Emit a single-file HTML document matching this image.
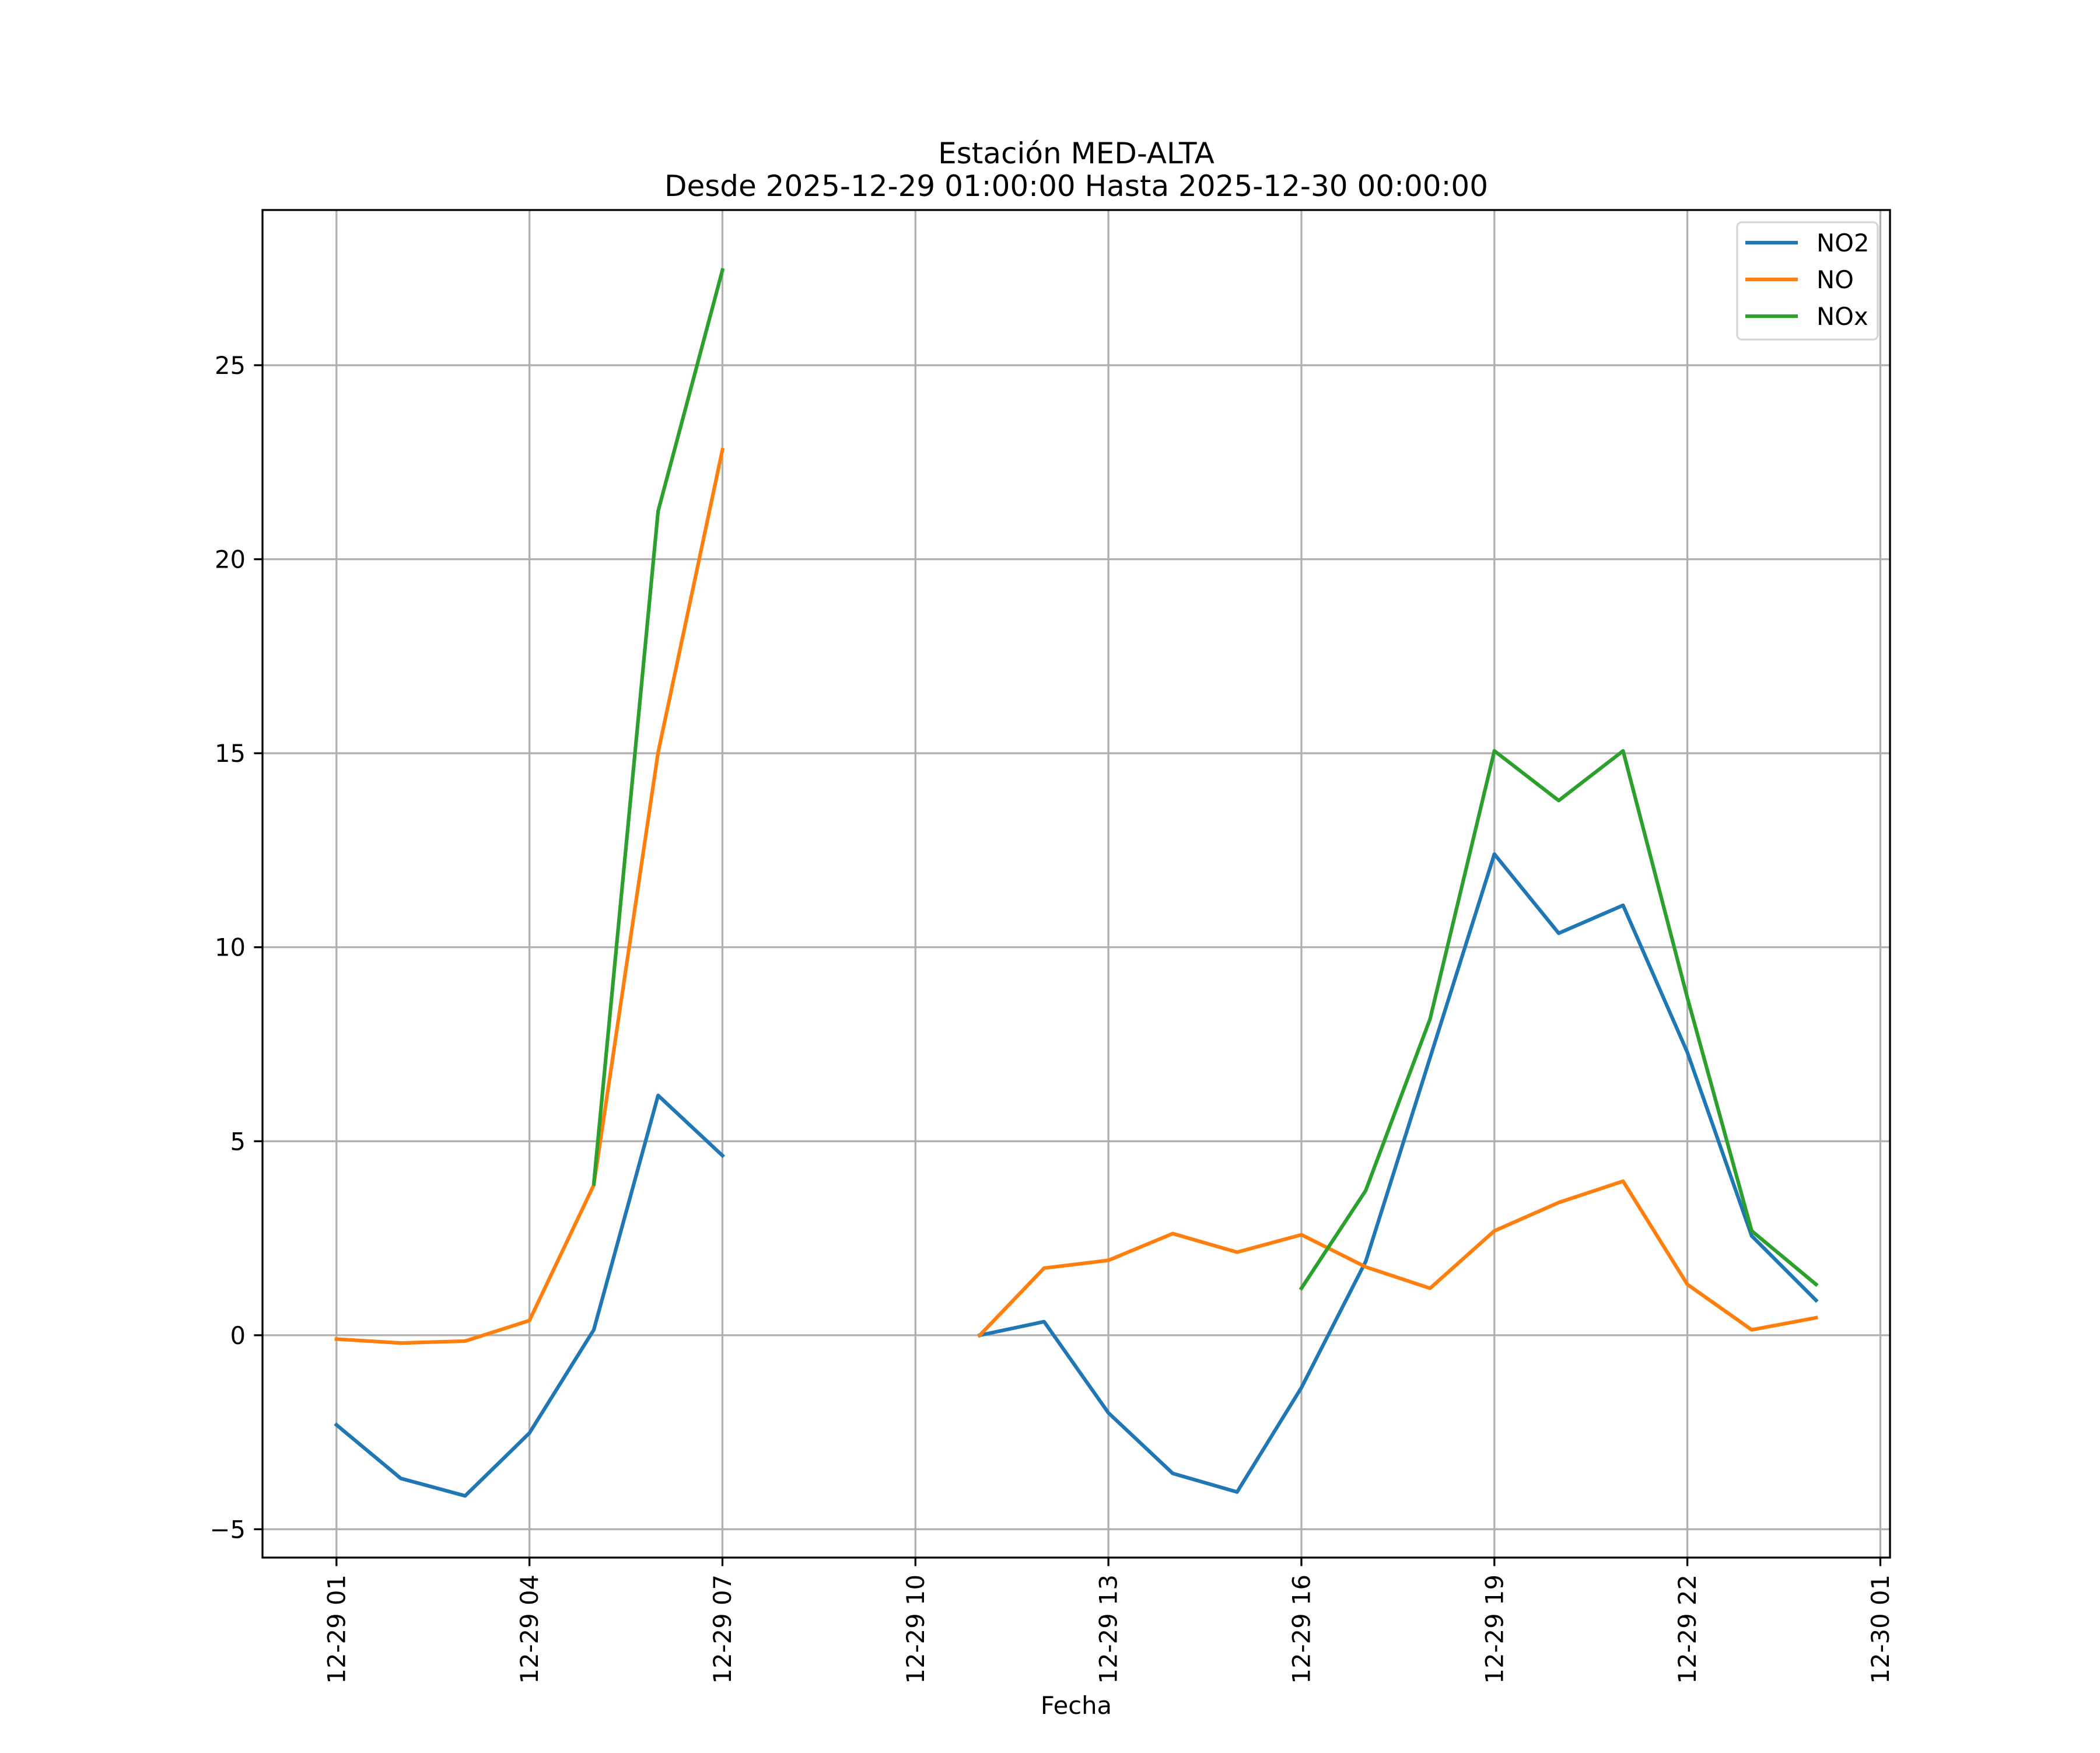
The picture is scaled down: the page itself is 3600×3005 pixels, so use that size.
<!DOCTYPE html>
<html><head><meta charset="utf-8"><style>
html,body{margin:0;padding:0;background:#fff;}
svg text{font-family:"DejaVu Sans","Liberation Sans",sans-serif;fill:#000;}
</style></head><body>
<svg id="chart" width="3600" height="3000" viewBox="0 0 3600 3000" xmlns="http://www.w3.org/2000/svg">
<rect width="3600" height="3000" fill="#fff"/>
<text x="1845" y="280" font-size="50" text-anchor="middle">Estación MED-ALTA</text>
<text x="1845" y="336" font-size="50" text-anchor="middle">Desde 2025-12-29 01:00:00 Hasta 2025-12-30 00:00:00</text>
<g id="grid"></g>
<g id="series"></g>
<rect x="450" y="360" width="2790" height="2310" fill="none" stroke="#000" stroke-width="3.3"/>
<g id="ticks"></g>
<text x="1845" y="2938" font-size="41.7" text-anchor="middle">Fecha</text>
<g>
<rect x="2978" y="381" width="241" height="201" rx="8" fill="#fff" fill-opacity="0.8" stroke="#d6d6d6" stroke-width="3.3"/>
<line x1="2992" y1="416" x2="3082" y2="416" stroke="#1f77b4" stroke-width="6.25"/>
<text x="3114" y="431" font-size="41.7">NO2</text>
<line x1="2992" y1="479" x2="3082" y2="479" stroke="#ff7f0e" stroke-width="6.25"/>
<text x="3114" y="494" font-size="41.7">NO</text>
<line x1="2992" y1="542" x2="3082" y2="542" stroke="#2ca02c" stroke-width="6.25"/>
<text x="3114" y="557" font-size="41.7">NOx</text>
</g>
</svg>
<script>
const hours = [0,1,2,3,4,5,6,7,8,9,10,11,12,13,14,15,16,17,18,19,20,21,22,23];
const no2 = [-2.31,-3.69,-4.14,-2.52,0.14,6.18,4.63,null,null,null,0.0,0.35,-2.0,-3.56,-4.04,-1.35,1.9,7.15,12.4,10.36,11.08,7.29,2.56,0.9];
const no = [-0.1,-0.2,-0.15,0.38,3.87,15.02,22.82,null,null,null,0.0,1.73,1.93,2.62,2.14,2.59,1.76,1.21,2.69,3.42,3.97,1.31,0.14,0.45];
const nox = [null,null,null,null,3.9,21.24,27.45,null,null,null,null,null,null,null,null,1.21,3.73,8.15,15.06,13.78,15.06,8.7,2.69,1.31];
const xTickHours = [0,3,6,9,12,15,18,21,24];
const xTickLabels = ["12-29 01","12-29 04","12-29 07","12-29 10","12-29 13","12-29 16","12-29 19","12-29 22","12-30 01"];
const yTicks = [-5,0,5,10,15,20,25];
const yTickLabels = ["\u22125","0","5","10","15","20","25"];

const L=450,R=3240,T=360,B=2670;
const xmin=-1.15,xmax=24.15,ymin=-5.73,ymax=29.0;
function sx(h){return L+(h-xmin)/(xmax-xmin)*(R-L);}
function sy(v){return B-(v-ymin)/(ymax-ymin)*(B-T);}
const NS="http://www.w3.org/2000/svg";
function mk(tag,attrs,parent){const e=document.createElementNS(NS,tag);for(const k in attrs)e.setAttribute(k,attrs[k]);parent.appendChild(e);return e;}
const grid=document.getElementById('grid'),ticks=document.getElementById('ticks'),series=document.getElementById('series');
xTickHours.forEach((h,i)=>{
  const x=sx(h);
  const g=mk('line',{x1:x,y1:T,x2:x,y2:B,stroke:'#b0b0b0','stroke-width':3.3},grid);
  
  
  const t=mk('line',{x1:x,y1:B,x2:x,y2:B+14.6,stroke:'#000','stroke-width':3.3},ticks);
  
  
  const lb=mk('text',{x:x,y:B+29,'font-size':41.7,'text-anchor':'end','dominant-baseline':'central',transform:`rotate(-90 ${x} ${B+29})`},ticks);
  lb.textContent=xTickLabels[i];
  
  
});
yTicks.forEach((v,i)=>{
  const y=sy(v);
  const g=mk('line',{x1:L,y1:y,x2:R,y2:y,stroke:'#b0b0b0','stroke-width':3.3},grid);
  
  
  const t=mk('line',{x1:L-14.6,y1:y,x2:L,y2:y,stroke:'#000','stroke-width':3.3},ticks);
  
  
  const lb=mk('text',{x:L-29,y:y+15,'font-size':41.7,'text-anchor':'end'},ticks);
  lb.textContent=yTickLabels[i];
  
  
});
function drawSeries(vals,color,name){
  let d='',pen=false;
  vals.forEach((v,i)=>{
    if(v===null){pen=false;return;}
    d+=(pen?'L':'M')+sx(hours[i]).toFixed(1)+' '+sy(v).toFixed(1)+' ';
    pen=true;
  });
  const p=mk('path',{d:d,fill:'none',stroke:color,'stroke-width':6.25,'stroke-linejoin':'round','stroke-linecap':'square'},series);
  
  
}
drawSeries(no2,'#1f77b4','line-no2');
drawSeries(no,'#ff7f0e','line-no');
drawSeries(nox,'#2ca02c','line-nox');
</script>
</body></html>
